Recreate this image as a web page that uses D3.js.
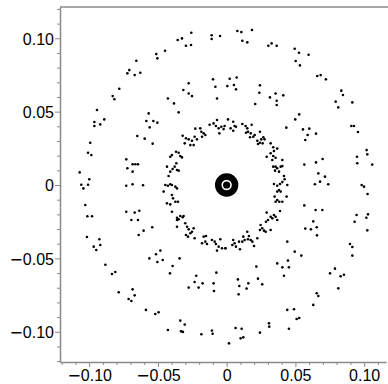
<!DOCTYPE html>
<html>
<head>
<meta charset="utf-8">
<script src="https://cdn.jsdelivr.net/npm/d3@7"></script>
<style>
  html, body { margin: 0; padding: 0; background: #fff; }
  svg { display: block; }
</style>
</head>
<body>
<script>
// points, in data units [x, y]
const outerRing = [
  [-0.0257,0.1038],[-0.0325,0.0999],[-0.0356,0.0988],[-0.0296,0.0949],[-0.0259,0.0954],[-0.0109,0.1020],
  [-0.0109,0.0995],[-0.0048,0.1015],[-0.0448,0.0915],[-0.0512,0.0892],[-0.0504,0.0863],[-0.0657,0.0847],
  [-0.0708,0.0783],[-0.0722,0.0761],[-0.0669,0.0749],[-0.0628,0.0765],[-0.0781,0.0656],[-0.0829,0.0606],
  [-0.0817,0.0584],[-0.0943,0.0511],[-0.0962,0.0429],[-0.0962,0.0402],[-0.0919,0.0413],[-0.0890,0.0447],
  [-0.0992,0.0288],[-0.1008,0.0220],[-0.0984,0.0204],[-0.1069,0.0086],[-0.1057,0.0002],[-0.1042,-0.0023],
  [-0.1008,0.0002],[-0.0999,0.0039],[-0.1028,-0.0136],[-0.1013,-0.0213],[-0.0979,-0.0213],[-0.1016,-0.0354],
  [-0.0967,-0.0420],[-0.0948,-0.0443],[-0.0926,-0.0370],[-0.0919,-0.0409],[-0.0882,-0.0543],[-0.0834,-0.0606],
  [-0.0810,-0.0593],[-0.0785,-0.0731],[-0.0713,-0.0777],[-0.0693,-0.0790],[-0.0684,-0.0711],[-0.0669,-0.0752],
  [-0.0587,-0.0851],[-0.0519,-0.0879],[-0.0495,-0.0867],[-0.0427,-0.0988],[-0.0337,-0.0924],[-0.0305,-0.0951],
  [-0.0332,-0.0997],[-0.0318,-0.1001],[-0.0184,-0.1017],[-0.0107,-0.0992],[-0.0102,-0.1013],
  [0.0078,0.1049],[0.0107,0.1042],[0.0184,0.1056],[0.0114,0.0983],[0.0150,0.0972],[0.0303,0.0949],
  [0.0327,0.0965],[0.0364,0.0949],[0.0495,0.0929],[0.0526,0.0901],[0.0596,0.0888],[0.0502,0.0845],
  [0.0533,0.0815],[0.0659,0.0743],[0.0684,0.0749],[0.0722,0.0720],[0.0834,0.0643],[0.0846,0.0613],
  [0.0914,0.0563],[0.0793,0.0568],[0.0812,0.0529],[0.0907,0.0402],[0.0926,0.0402],[0.0955,0.0361],
  [0.1018,0.0238],[0.1023,0.0209],[0.1059,0.0139],[0.0948,0.0193],[0.0950,0.0148],[0.0982,0.0000],
  [0.0999,-0.0011],[0.1025,-0.0061],[0.0945,-0.0204],[0.0931,-0.0250],[0.1016,-0.0223],[0.1028,-0.0200],
  [0.1023,-0.0309],[0.0897,-0.0402],[0.0914,-0.0422],[0.0914,-0.0481],[0.0752,-0.0602],[0.0788,-0.0570],
  [0.0829,-0.0622],[0.0853,-0.0611],[0.0812,-0.0704],[0.0655,-0.0738],[0.0667,-0.0756],[0.0630,-0.0817],
  [0.0441,-0.0851],[0.0490,-0.0847],[0.0509,-0.0913],[0.0528,-0.0906],[0.0308,-0.0942],[0.0310,-0.0965],
  [0.0242,-0.1006],[0.0453,-0.0979],[0.0065,-0.0974],[0.0109,-0.0979],[0.0102,-0.1045],[0.0121,-0.1038],
  [0.0017,-0.1079]
];

const middleRing = [
  [-0.0276,0.0693],[-0.0315,0.0647],[-0.0276,0.0624],[-0.0252,0.0606],[-0.0427,0.0590],[-0.0383,0.0556],
  [-0.0349,0.0495],[-0.0099,0.0720],[-0.0082,0.0670],[-0.0070,0.0590],[-0.0567,0.0488],[-0.0584,0.0436],
  [-0.0533,0.0436],[-0.0504,0.0425],[-0.0560,0.0393],[-0.0650,0.0334],[-0.0596,0.0316],[-0.0538,0.0282],
  [-0.0730,0.0175],[-0.0722,0.0114],[-0.0684,0.0141],[-0.0664,0.0141],[-0.0645,0.0141],[-0.0684,0.0091],
  [-0.0730,-0.0005],[-0.0684,0.0005],[-0.0608,-0.0002],[-0.0730,-0.0182],[-0.0669,-0.0188],[-0.0635,-0.0175],
  [-0.0693,-0.0238],[-0.0645,-0.0238],[-0.0640,-0.0341],[-0.0604,-0.0311],[-0.0541,-0.0288],[-0.0562,-0.0500],
  [-0.0514,-0.0472],[-0.0482,-0.0447],[-0.0504,-0.0525],[-0.0465,-0.0511],[-0.0342,-0.0500],[-0.0412,-0.0602],
  [-0.0393,-0.0552],[-0.0276,-0.0699],[-0.0233,-0.0661],[-0.0221,-0.0618],[-0.0204,-0.0699],[-0.0175,-0.0670],
  [-0.0095,-0.0670],[-0.0092,-0.0722],[-0.0075,-0.0597],
  [0.0022,0.0724],[0.0073,0.0733],[0.0053,0.0681],[0.0068,0.0652],[0.0005,0.0674],[0.0242,0.0679],
  [0.0238,0.0629],[0.0208,0.0552],[0.0315,0.0597],[0.0356,0.0624],[0.0364,0.0574],[0.0364,0.0545],
  [0.0412,0.0611],[0.0434,0.0391],[0.0499,0.0447],[0.0528,0.0481],[0.0555,0.0379],[0.0601,0.0384],
  [0.0589,0.0341],[0.0572,0.0307],[0.0650,0.0350],[0.0565,0.0139],[0.0650,0.0154],[0.0698,0.0177],
  [0.0667,0.0079],[0.0715,0.0057],[0.0679,0.0023],[0.0642,0.0005],[0.0739,0.0005],[0.0565,-0.0139],
  [0.0647,-0.0170],[0.0696,-0.0170],[0.0630,-0.0248],[0.0655,-0.0288],[0.0572,-0.0297],[0.0613,-0.0302],
  [0.0657,-0.0343],[0.0441,-0.0386],[0.0495,-0.0454],[0.0543,-0.0481],[0.0368,-0.0534],[0.0405,-0.0561],
  [0.0446,-0.0515],[0.0453,-0.0561],[0.0417,-0.0618],[0.0216,-0.0556],[0.0228,-0.0638],[0.0259,-0.0677],
  [0.0158,-0.0670],[0.0082,-0.0643],[0.0092,-0.0688],[0.0145,-0.0706],[0.0087,-0.0745]
];

const innerRing = [
  [-0.0124,0.0411],[-0.0095,0.0420],[-0.0078,0.0402],[-0.0058,0.0386],[-0.0039,0.0397],[-0.0022,0.0381],
  [-0.0070,0.0443],[-0.0053,0.0352],[-0.0015,0.0402],[-0.0192,0.0386],[-0.0184,0.0363],[-0.0167,0.0352],
  [-0.0179,0.0329],[-0.0155,0.0341],[-0.0228,0.0384],[-0.0233,0.0329],[-0.0216,0.0311],[-0.0252,0.0302],
  [-0.0276,0.0311],[-0.0296,0.0318],[-0.0305,0.0284],[-0.0264,0.0272],[-0.0240,0.0272],[-0.0320,0.0336],
  [-0.0398,0.0204],[-0.0410,0.0193],[-0.0368,0.0227],[-0.0349,0.0220],[-0.0337,0.0198],[-0.0325,0.0188],
  [-0.0366,0.0148],[-0.0378,0.0125],[-0.0393,0.0109],[-0.0361,0.0102],[-0.0410,0.0091],[-0.0434,0.0125],
  [-0.0422,0.0061],[-0.0349,0.0098],[-0.0446,0.0000],[-0.0427,-0.0005],[-0.0410,0.0005],[-0.0398,0.0000],
  [-0.0373,-0.0011],[-0.0361,-0.0023],[-0.0458,-0.0045],[-0.0398,-0.0068],[-0.0390,-0.0091],[-0.0373,-0.0114],
  [-0.0354,-0.0114],[-0.0410,-0.0132],[-0.0434,-0.0125],[-0.0398,-0.0182],[-0.0361,-0.0223],[-0.0349,-0.0234],
  [-0.0337,-0.0211],[-0.0320,-0.0220],[-0.0313,-0.0211],[-0.0361,-0.0238],[-0.0361,-0.0284],[-0.0301,-0.0261],
  [-0.0288,-0.0284],[-0.0276,-0.0302],[-0.0264,-0.0329],[-0.0281,-0.0352],[-0.0296,-0.0341],[-0.0240,-0.0295],
  [-0.0252,-0.0318],[-0.0233,-0.0363],[-0.0167,-0.0352],[-0.0155,-0.0386],[-0.0143,-0.0402],[-0.0179,-0.0397],
  [-0.0150,-0.0347],[-0.0107,-0.0375],[-0.0087,-0.0386],[-0.0078,-0.0402],[-0.0058,-0.0420],[-0.0070,-0.0447],
  [-0.0046,-0.0370],[-0.0034,-0.0431],[-0.0010,-0.0431],
  [0.0010,0.0447],[0.0048,0.0431],[0.0058,0.0402],[0.0029,0.0386],[0.0048,0.0370],[0.0068,0.0397],
  [0.0114,0.0416],[0.0138,0.0402],[0.0150,0.0386],[0.0155,0.0363],[0.0182,0.0411],[0.0141,0.0356],
  [0.0175,0.0352],[0.0194,0.0329],[0.0204,0.0341],[0.0170,0.0325],[0.0242,0.0363],[0.0223,0.0302],
  [0.0242,0.0288],[0.0252,0.0311],[0.0267,0.0325],[0.0276,0.0311],[0.0262,0.0284],[0.0228,0.0279],
  [0.0320,0.0284],[0.0339,0.0257],[0.0344,0.0232],[0.0368,0.0248],[0.0320,0.0216],[0.0339,0.0198],
  [0.0356,0.0186],[0.0332,0.0170],[0.0291,0.0193],[0.0405,0.0170],[0.0339,0.0125],[0.0356,0.0125],
  [0.0368,0.0114],[0.0393,0.0125],[0.0405,0.0129],[0.0352,0.0098],[0.0381,0.0091],[0.0417,0.0061],
  [0.0422,0.0039],[0.0405,0.0020],[0.0388,0.0007],[0.0344,0.0007],[0.0368,-0.0005],[0.0441,0.0000],
  [0.0381,-0.0034],[0.0368,-0.0045],[0.0393,-0.0045],[0.0349,-0.0079],[0.0368,-0.0102],[0.0383,-0.0114],
  [0.0405,-0.0114],[0.0436,-0.0079],[0.0356,-0.0114],[0.0291,-0.0188],[0.0344,-0.0204],[0.0356,-0.0216],
  [0.0320,-0.0216],[0.0332,-0.0227],[0.0301,-0.0238],[0.0286,-0.0250],[0.0368,-0.0238],[0.0388,-0.0177],
  [0.0247,-0.0272],[0.0259,-0.0295],[0.0272,-0.0311],[0.0284,-0.0318],[0.0242,-0.0307],[0.0320,-0.0307],
  [0.0223,-0.0363],[0.0150,-0.0318],[0.0121,-0.0352],[0.0131,-0.0375],[0.0155,-0.0370],[0.0175,-0.0375],
  [0.0187,-0.0386],[0.0114,-0.0386],[0.0090,-0.0386],[0.0162,-0.0347],[0.0199,-0.0416],[0.0048,-0.0375],
  [0.0058,-0.0397],[0.0068,-0.0420],[0.0097,-0.0438],[-0.0007,-0.0431],[0.0041,-0.0409]
];

// the solid blob at the origin: outer radius, white ring radius
const centreBlob = { x: 0, y: 0, r: 0.0085, ring: 0.0032 };

const majorTicks = [-0.10, -0.05, 0, 0.05, 0.10];
const tickLabels = ['\u22120.10', '\u22120.05', '0', '0.05', '0.10'];
const minorTicksX = [-0.12,-0.11,-0.09,-0.08,-0.07,-0.06,-0.04,-0.03,-0.02,-0.01,
                     0.01,0.02,0.03,0.04,0.06,0.07,0.08,0.09,0.11];
const minorTicksY = minorTicksX.concat([0.12]);

const width = 388, height = 384;
const plotLeft = 60, plotRight = 386, plotTop = 7, plotBottom = 362;

const svg = d3.select('body').append('svg')
  .attr('width', width)
  .attr('height', height);

const x = d3.scaleLinear().domain([-0.1212, 0.1159]).range([plotLeft, plotRight]);
const y = d3.scaleLinear().domain([-0.1206, 0.1213]).range([plotBottom, plotTop]);

const axisColor = '#8a8a8a';
const fmt = d => tickLabels[majorTicks.indexOf(d)];

// frame line along the top
svg.append('line')
  .attr('x1', plotLeft).attr('x2', width)
  .attr('y1', plotTop).attr('y2', plotTop)
  .attr('stroke', axisColor).attr('stroke-width', 1.5);

let styleAxis = function(g) {
  g.select('.domain').attr('stroke', axisColor).attr('stroke-width', 1.5);
  g.selectAll('.tick line').attr('stroke', axisColor);
  g.selectAll('.tick text')
    .attr('fill', '#000')
    .style('font-family', '"Liberation Sans", Arial, sans-serif')
    .style('font-size', '16px')
    .each(function() {
      let t = d3.select(this);
      let s = t.text();
      if (s.charAt(0) === '\u2212') {
        t.text(null);
        t.append('tspan').style('font-family', '"DejaVu Sans"').text('\u2212');
        t.append('tspan').text(s.slice(1));
      }
    });
};

// minor ticks first, majors on top
svg.append('g')
  .attr('transform', 'translate(0,' + plotBottom + ')')
  .call(d3.axisBottom(x).tickValues(minorTicksX).tickSize(3).tickFormat(''))
  .call(g => g.select('.domain').remove())
  .call(g => g.selectAll('.tick line').attr('stroke', axisColor));

svg.append('g')
  .attr('transform', 'translate(' + plotLeft + ',0)')
  .call(d3.axisLeft(y).tickValues(minorTicksY).tickSize(3).tickFormat(''))
  .call(g => g.select('.domain').remove())
  .call(g => g.selectAll('.tick line').attr('stroke', axisColor));

let xAxisG = svg.append('g')
  .attr('transform', 'translate(0,' + plotBottom + ')')
  .call(d3.axisBottom(x).tickValues(majorTicks).tickSize(5).tickSizeOuter(0)
    .tickPadding(3).tickFormat(fmt))
  .call(styleAxis);

let yAxisG = svg.append('g')
  .attr('transform', 'translate(' + plotLeft + ',0)')
  .call(d3.axisLeft(y).tickValues(majorTicks).tickSize(5).tickSizeOuter(0)
    .tickPadding(1).tickFormat(fmt))
  .call(styleAxis);
yAxisG.selectAll('.tick text').attr('dy', '0.36em');

// points
let pts = svg.append('g').attr('class', 'points');
[outerRing, middleRing, innerRing].forEach(ring => {
  pts.selectAll(null)
    .data(ring)
    .enter()
    .append('circle')
    .attr('cx', d => x(d[0]))
    .attr('cy', d => y(d[1]))
    .attr('r', 1.3)
    .attr('fill', '#000');
});

// centre blob
let blob = svg.append('g');
blob.append('circle')
  .attr('cx', x(centreBlob.x))
  .attr('cy', y(centreBlob.y))
  .attr('r', x(centreBlob.r) - x(0))
  .attr('fill', '#000');
blob.append('circle')
  .attr('cx', x(centreBlob.x))
  .attr('cy', y(centreBlob.y))
  .attr('r', x(centreBlob.ring) - x(0))
  .attr('fill', 'none')
  .attr('stroke', '#fff')
  .attr('stroke-width', 1.6);
</script>
</body>
</html>
